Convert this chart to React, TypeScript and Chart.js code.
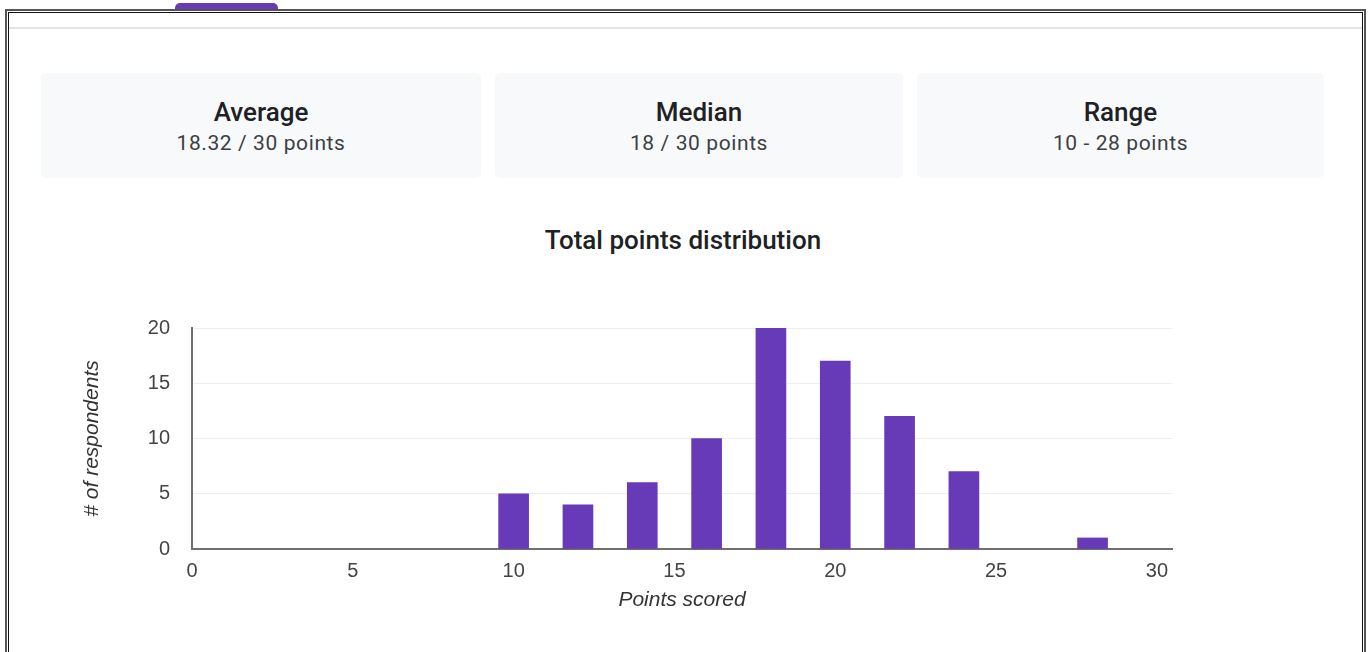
import React, { useEffect, useRef } from "react";
import { Chart, registerables } from "chart.js";

Chart.register(...registerables);

const scores = [10, 12, 14, 16, 18, 20, 22, 24, 28];
const respondents = [5, 4, 6, 10, 20, 17, 12, 7, 1];
const statTitles = ["Average", "Median", "Range"];
const statValues = ["18.32 / 30 points", "18 / 30 points", "10 - 28 points"];
const chartTitle = "Total points distribution";
const xAxisTitle = "Points scored";
const yAxisTitle = "# of respondents";

const cardBoxes = [
  { left: 41, width: 440 },
  { left: 495, width: 408 },
  { left: 917, width: 407 },
];

export default function App() {
  const canvasRef = useRef<HTMLCanvasElement | null>(null);

  useEffect(() => {
    if (!canvasRef.current) return;
    const chart = new Chart(canvasRef.current, {
      type: "bar",
      data: {
        datasets: [
          {
            data: scores.map((s, i) => ({ x: s, y: respondents[i] })),
            backgroundColor: "#673ab7",
            barThickness: 30,
          },
        ],
      },
      options: {
        animation: false,
        responsive: true,
        maintainAspectRatio: false,
        layout: { padding: { top: 0, right: 38, left: 0, bottom: 0 } },
        plugins: { legend: { display: false }, tooltip: { enabled: false } },
        scales: {
          x: {
            type: "linear",
            min: 0,
            max: 30.47,
            offset: false,
            grid: { display: false, drawTicks: false },
            border: { display: true, color: "#6f6f6f", width: 2 },
            ticks: {
              stepSize: 5,
              includeBounds: false,
              padding: 10,
              maxRotation: 0,
              color: "#444",
              font: { family: "'Liberation Sans', Arial", size: 20 },
            },
            title: {
              display: true,
              text: xAxisTitle,
              color: "#333",
              padding: { top: 0, bottom: 17 },
              font: { family: "'Liberation Sans', Arial", size: 21, style: "italic" },
            },
            afterFit: (s: any) => {
              s.height = 81;
            },
          },
          y: {
            min: 0,
            max: 20,
            grid: { color: "#eeeeee", drawTicks: false },
            border: { display: true, color: "#6f6f6f", width: 2 },
            ticks: {
              stepSize: 5,
              padding: 22,
              color: "#444",
              font: { family: "'Liberation Sans', Arial", size: 20 },
            },
            title: {
              display: true,
              text: yAxisTitle,
              color: "#333",
              padding: { top: 20, bottom: 0 },
              font: { family: "'Liberation Sans', Arial", size: 21, style: "italic" },
            },
            afterFit: (s: any) => {
              s.width = 132;
            },
          },
        },
      },
    });
    return () => chart.destroy();
  }, []);

  return (
    <div
      style={{
        position: "absolute",
        left: 0,
        top: 0,
        width: 1370,
        height: 652,
        background: "#fff",
        overflow: "hidden",
        fontFamily: "Roboto, 'Noto Sans', Arial, sans-serif",
      }}
    >
      {/* purple tab */}
      <div
        style={{
          position: "absolute",
          left: 175,
          top: 3,
          width: 103,
          height: 8,
          background: "#673ab7",
          borderRadius: "5px 5px 0 0",
        }}
      />
      {/* outer frame */}
      <div
        style={{
          position: "absolute",
          left: 5,
          top: 9,
          width: 1361,
          height: 660,
          boxSizing: "border-box",
          border: "2px solid #555",
        }}
      />
      <div
        style={{
          position: "absolute",
          left: 8,
          top: 12,
          width: 1355,
          height: 660,
          boxSizing: "border-box",
          border: "1px solid #111",
        }}
      />
      {/* separator */}
      <div
        style={{
          position: "absolute",
          left: 9,
          top: 27,
          width: 1353,
          height: 2,
          background: "#e3e3e3",
        }}
      />
      {cardBoxes.map((b, i) => (
        <div
          key={i}
          style={{
            position: "absolute",
            left: b.left,
            top: 73,
            width: b.width,
            height: 105,
            background: "#f8f9fa",
            borderRadius: 5,
            textAlign: "center",
          }}
        >
          <div
            style={{
              position: "absolute",
              left: 0,
              right: 0,
              top: 23,
              fontSize: 26,
              fontWeight: 500,
              color: "#202124",
              lineHeight: "32px",
            }}
          >
            {statTitles[i]}
          </div>
          <div
            style={{
              position: "absolute",
              left: 0,
              right: 0,
              top: 56,
              fontSize: 21,
              letterSpacing: 0.6,
              color: "#3c4043",
              lineHeight: "28px",
            }}
          >
            {statValues[i]}
          </div>
        </div>
      ))}
      <div
        style={{
          position: "absolute",
          left: 0,
          width: 1366,
          top: 223,
          textAlign: "center",
          fontSize: 26,
          fontWeight: 500,
          color: "#202124",
          lineHeight: "34px",
        }}
      >
        {chartTitle}
      </div>
      <div
        style={{
          position: "absolute",
          left: 60,
          top: 294,
          width: 1150,
          height: 336,
        }}
      >
        <canvas ref={canvasRef} />
      </div>
    </div>
  );
}
